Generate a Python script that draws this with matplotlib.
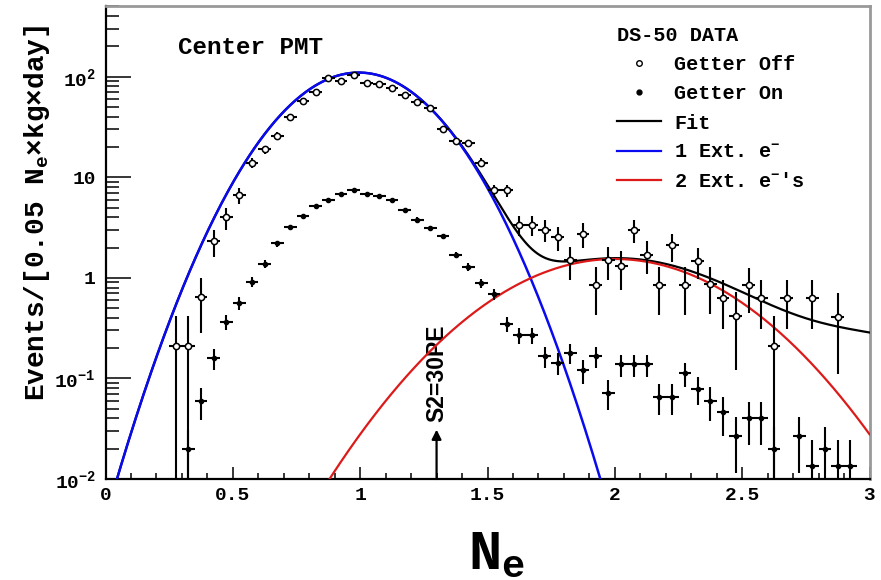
import matplotlib
matplotlib.use("Agg")
import matplotlib.pyplot as plt
from matplotlib.lines import Line2D
from matplotlib.ticker import LogLocator, NullFormatter, MultipleLocator
import numpy as np

# fonts: bold courier-like, ROOT style
plt.rcParams['font.family'] = ['Liberation Mono', 'DejaVu Sans']
plt.rcParams['font.weight'] = 'bold'
plt.rcParams['mathtext.fontset'] = 'custom'
plt.rcParams['mathtext.rm'] = 'Liberation Mono:bold'
plt.rcParams['mathtext.bf'] = 'Liberation Mono:bold'
plt.rcParams['mathtext.it'] = 'Liberation Mono:bold'

# ---- DATA ----
# Getter Off (open markers)
x_off = [0.275, 0.325, 0.375, 0.425, 0.475, 0.525, 0.575, 0.625, 0.675, 0.725,
         0.775, 0.825, 0.875, 0.925, 0.975, 1.025, 1.075, 1.125, 1.175, 1.225,
         1.275, 1.325, 1.375, 1.425, 1.475, 1.525, 1.575, 1.625, 1.675, 1.725,
         1.775, 1.825, 1.875, 1.925, 1.975, 2.025, 2.075, 2.125, 2.175, 2.225,
         2.275, 2.325, 2.375, 2.425, 2.475, 2.525, 2.575, 2.625, 2.675, 2.775,
         2.875]
y_off = [0.21, 0.21, 0.64, 2.3, 4.0, 6.6, 13.9, 18.9, 26, 39.5,
         58, 71, 97, 91, 104, 86, 85, 77, 66, 56,
         49, 30, 23, 22, 14, 7.4, 7.4, 3.35, 3.35, 3.0,
         2.55, 1.5, 2.73, 0.85, 1.5, 1.3, 3.0, 1.7, 0.85, 2.1,
         0.85, 1.48, 0.86, 0.63, 0.42, 0.85, 0.63, 0.21, 0.63, 0.63,
         0.41]
e_off = [0.205, 0.205, 0.36, 0.7, 1.0, 1.2, 1.5, 1.7, 2.0, 2.4,
         2.8, 3.0, 3.5, 3.4, 3.6, 3.3, 3.3, 3.1, 2.9, 2.7,
         2.5, 2.0, 1.8, 1.7, 1.4, 1.0, 1.0, 0.75, 0.75, 0.72,
         0.68, 0.55, 0.75, 0.42, 0.55, 0.55, 0.8, 0.6, 0.42, 0.66,
         0.42, 0.5, 0.42, 0.32, 0.3, 0.4, 0.32, 0.205, 0.32, 0.32,
         0.3]

# Getter On (filled markers)
x_on = [0.325, 0.375, 0.425, 0.475, 0.525, 0.575, 0.625, 0.675, 0.725, 0.775,
        0.825, 0.875, 0.925, 0.975, 1.025, 1.075, 1.125, 1.175, 1.225, 1.275,
        1.325, 1.375, 1.425, 1.475, 1.525, 1.575, 1.625, 1.675, 1.725, 1.775,
        1.825, 1.875, 1.925, 1.975, 2.025, 2.075, 2.125, 2.175, 2.225, 2.275,
        2.325, 2.375, 2.425, 2.475, 2.525, 2.575, 2.625, 2.725, 2.775, 2.825,
        2.875, 2.925]
y_on = [0.020, 0.060, 0.158, 0.364, 0.56, 0.92, 1.38, 2.2, 3.2, 4.1,
        5.2, 6.0, 6.9, 7.4, 6.75, 6.5, 5.9, 4.7, 3.8, 3.1,
        2.6, 1.69, 1.28, 0.885, 0.69, 0.35, 0.27, 0.27, 0.166, 0.143,
        0.18, 0.121, 0.166, 0.072, 0.138, 0.138, 0.138, 0.066, 0.066, 0.112,
        0.079, 0.06, 0.046, 0.0265, 0.040, 0.040, 0.0198, 0.0265, 0.0135, 0.0198,
        0.0135, 0.0135]
e_on = [0.011, 0.021, 0.036, 0.06, 0.08, 0.1, 0.12, 0.15, 0.18, 0.2,
        0.22, 0.24, 0.26, 0.27, 0.26, 0.25, 0.24, 0.21, 0.19, 0.17,
        0.16, 0.13, 0.11, 0.095, 0.085, 0.06, 0.05, 0.05, 0.038, 0.035,
        0.04, 0.033, 0.038, 0.024, 0.034, 0.034, 0.034, 0.023, 0.023, 0.03,
        0.025, 0.022, 0.019, 0.015, 0.018, 0.018, 0.013, 0.015, 0.011, 0.013,
        0.011, 0.011]
bin_half = 0.025

# fit components (amplitude, mean, sigma)
one_ext = (110.0, 0.994, 0.22)
two_ext = (1.54, 2.0, 0.353)
three_ext = (0.26, 2.95, 0.45)

S2_THRESHOLD = 1.3


def gauss(x, p):
    return p[0] * np.exp(-(x - p[1]) ** 2 / (2 * p[2] ** 2))


xs = np.linspace(0, 3, 600)
g1 = gauss(xs, one_ext)
g2 = gauss(xs, two_ext)
fit = g1 + g2 + gauss(xs, three_ext)

# ---- PLOT ----
fig = plt.figure(figsize=(8.81, 5.80), dpi=100)
ax = fig.add_axes([105.5 / 881, 1 - 479 / 580, 764 / 881, 473 / 580])

ax.plot(xs, fit, color='black', lw=1.6, zorder=3)
ax.plot(xs, g1, color='#0a0af0', lw=1.8, zorder=4)
ax.plot(xs, g2, color='#dd1a1a', lw=1.6, zorder=4)

ax.errorbar(x_off, y_off, xerr=bin_half, yerr=e_off, fmt='o', ms=4.5,
            mfc='white', mec='black', mew=1.1, ecolor='black', elinewidth=1.5,
            capsize=0, zorder=5)
ax.errorbar(x_on, y_on, xerr=bin_half, yerr=e_on, fmt='o', ms=3,
            mfc='black', mec='black', ecolor='black', elinewidth=1.5,
            capsize=0, zorder=5)

ax.set_yscale('log')
ax.set_xlim(0, 3)
ax.set_ylim(0.01, 505)

ax.set_xticks([0, 0.5, 1, 1.5, 2, 2.5, 3])
ax.set_xticklabels(['0', '0.5', '1', '1.5', '2', '2.5', '3'])
ax.xaxis.set_minor_locator(MultipleLocator(0.1))
ax.set_yticks([0.01, 0.1, 1, 10, 100])
ax.set_yticklabels([r'$10^{-2}$', r'$10^{-1}$', '1', '10', r'$10^{2}$'])
ax.yaxis.set_minor_locator(LogLocator(base=10, subs=np.arange(2, 10)))
ax.yaxis.set_minor_formatter(NullFormatter())

ax.tick_params(axis='both', which='both', direction='in', labelsize=14,
               width=1.1, top=False, right=False)
ax.tick_params(axis='y', which='major', length=18, pad=7)
ax.tick_params(axis='y', which='minor', length=9)
ax.tick_params(axis='x', which='major', length=9, pad=6)
ax.tick_params(axis='x', which='minor', length=4.5)

for s in ['left', 'bottom']:
    ax.spines[s].set_linewidth(1.6)
for s in ['top', 'right']:
    ax.spines[s].set_color('#999999')
    ax.spines[s].set_linewidth(2)

# threshold marker
ax.annotate('', xy=(S2_THRESHOLD, 0.031), xytext=(S2_THRESHOLD, 0.01),
            arrowprops=dict(arrowstyle='-|>', color='black', lw=1.6,
                            mutation_scale=14, shrinkA=0, shrinkB=0))
ax.text(S2_THRESHOLD, 0.037, 'S2=30PE', rotation=90, ha='center', va='bottom',
        fontsize=16.5, family=['Liberation Sans', 'DejaVu Sans'], fontweight='bold')

ax.text(0.095, 0.913, 'Center PMT', transform=ax.transAxes, fontsize=17.5,
        va='center', ha='left')

handles = [
    Line2D([], [], ls='none', marker='o', ms=4, mfc='white', mec='black', mew=1),
    Line2D([], [], ls='none', marker='o', ms=3.5, color='black'),
    Line2D([], [], color='black', lw=1.6),
    Line2D([], [], color='#0a0af0', lw=1.6),
    Line2D([], [], color='#dd1a1a', lw=1.6),
]
labels = ['Getter Off', 'Getter On', 'Fit', r'1 Ext. e$^{-}$', r"2 Ext. e$^{-}$'s"]
leg = ax.legend(handles, labels, loc='upper left', bbox_to_anchor=(0.669, 0.957),
                frameon=False, fontsize=14.5, title='DS-50 DATA',
                title_fontsize=14.5, alignment='left', handlelength=2.2,
                handletextpad=0.65, labelspacing=0.5, borderpad=0,
                borderaxespad=0)

fig.text(37 / 881, 1 - 213 / 580, r'Events/[0.05 N$_{e}$×kg×day]', rotation=90,
         ha='center', va='center', fontsize=20)
fig.text(497 / 881, 1 - 555 / 580, r'N$_{e}$', ha='center', va='center',
         fontsize=40)

fig.savefig('out.png', dpi=100)
